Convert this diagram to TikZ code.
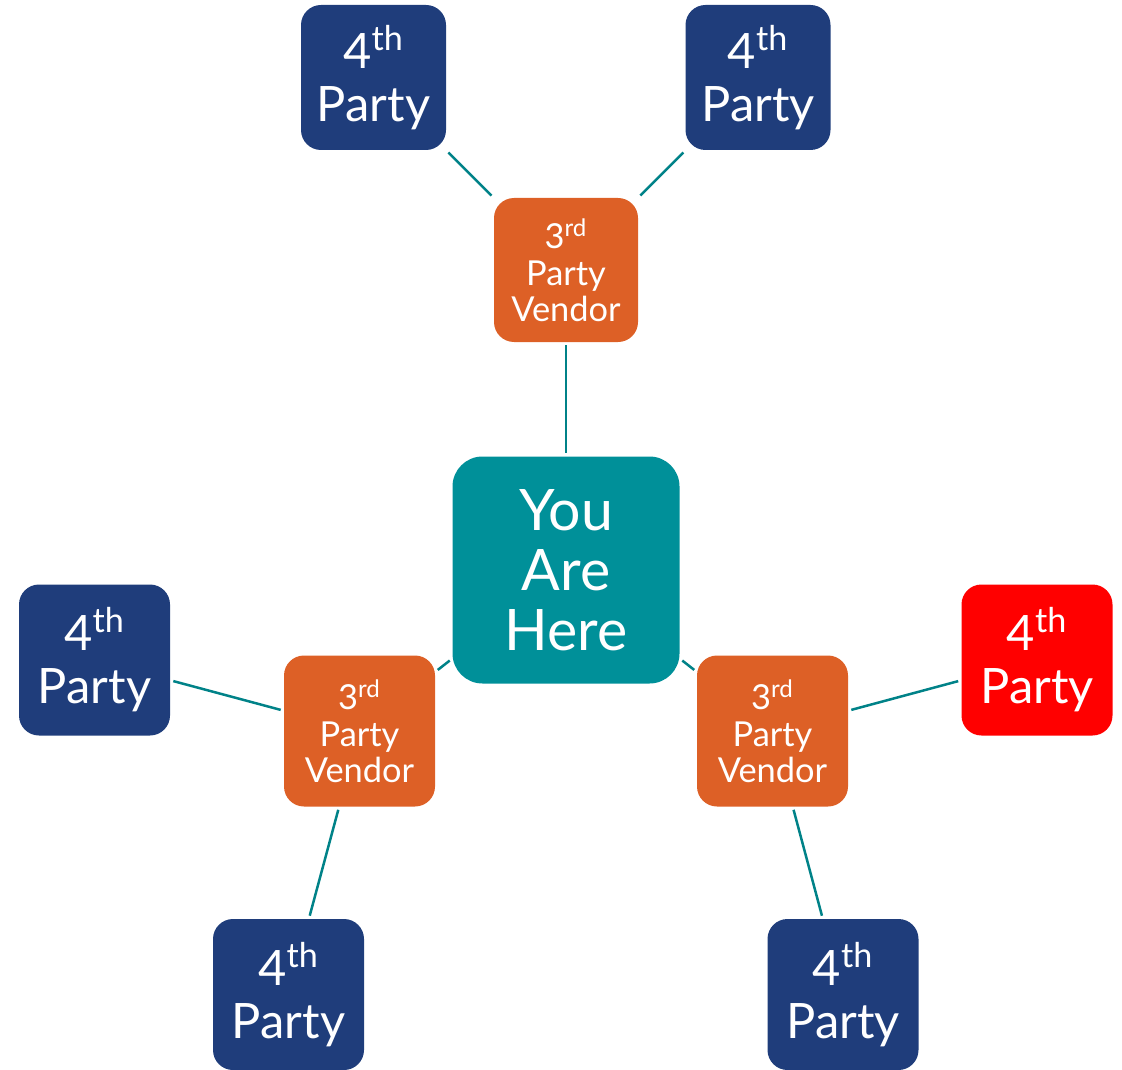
\documentclass[tikz,border=0pt]{standalone}
\usepackage{fontspec}
\setmainfont{Lato}
\usepackage{tikz}
\definecolor{hereteal}{RGB}{0,144,153}
\definecolor{linkteal}{RGB}{0,130,136}
\definecolor{vendororange}{RGB}{221,96,38}
\definecolor{partynavy}{RGB}{31,61,123}
\definecolor{partyred}{RGB}{255,0,0}

\begin{document}
\begin{tikzpicture}[x=0.5pt,y=-0.5pt,
		box/.style={text=white,align=center,inner sep=0pt,rounded corners=10pt},
		here/.style={box,fill=hereteal,minimum size=113.5pt,rounded corners=15pt,font=\fontsize{28.6}{30}\selectfont},
		vendor/.style={box,fill=vendororange,minimum size=75.5pt,font=\fontsize{17.2}{18.2}\selectfont},
		fourth/.style={box,fill=partynavy,minimum size=75.5pt,font=\fontsize{24.4}{26.5}\selectfont},
		link/.style={draw=linkteal,line width=1.25pt,shorten <=1.5pt,shorten >=1.5pt}]
			\useasboundingbox (0,0) rectangle (1122,1069);
			\node[here] (you) at (566,570) {You\\Are\\Here};
			\node[vendor,minimum size=72pt] (vtop) at (566,270) {3\textsuperscript{rd}\\Party\\Vendor};
			\node[vendor] (vleft) at (359.5,731) {3\textsuperscript{rd}\\Party\\Vendor};
			\node[vendor] (vright) at (772.5,731) {3\textsuperscript{rd}\\Party\\Vendor};
			\node[fourth,minimum size=72.5pt] (ptl) at (373.5,77.5) {4\textsuperscript{th}\\Party};
			\node[fourth,minimum size=72.5pt] (ptr) at (758,77.5) {4\textsuperscript{th}\\Party};
			\node[fourth] (pl) at (94.5,660) {4\textsuperscript{th}\\Party};
			\node[fourth,fill=partyred] (pr) at (1037,660) {4\textsuperscript{th}\\Party};
			\node[fourth] (pbl) at (288.5,994.5) {4\textsuperscript{th}\\Party};
			\node[fourth] (pbr) at (843,994.5) {4\textsuperscript{th}\\Party};
			\foreach \a/\b in {vtop/you,vleft/you,vright/you,vtop/ptl,vtop/ptr,vleft/pl,vleft/pbl,vright/pr,vright/pbr}
				\draw[link] (\a) -- (\b);
		\end{tikzpicture}
\end{document}
